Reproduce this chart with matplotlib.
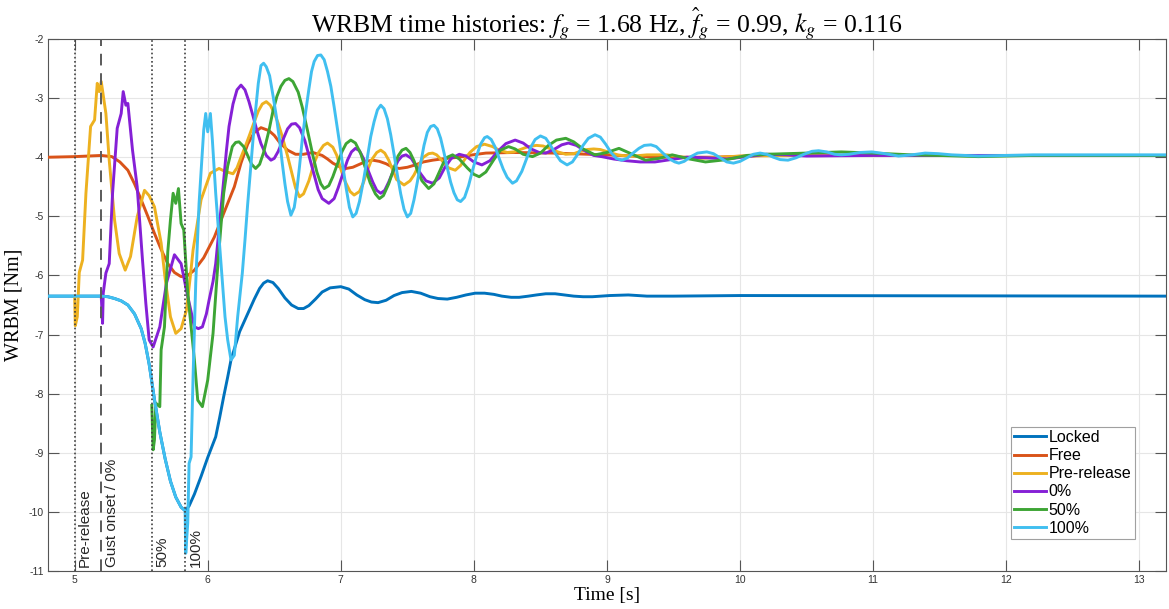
import matplotlib
matplotlib.use('Agg')
import matplotlib.pyplot as plt

# time [s] / WRBM [Nm] samples
LOCKED_T = [4.80, 5.20, 5.25, 5.30, 5.35, 5.40, 5.45, 5.50, 5.53, 5.56, 5.60, 5.64, 5.68, 5.72, 5.76,
            5.80, 5.83, 5.86, 5.90, 5.95, 6.00, 6.06, 6.09, 6.12, 6.15, 6.175, 6.21, 6.24, 6.28, 6.31,
            6.35, 6.39, 6.42, 6.45, 6.49, 6.53, 6.58, 6.63, 6.68, 6.72, 6.76, 6.81, 6.86, 6.92, 7.00,
            7.06, 7.12, 7.18, 7.23, 7.28, 7.34, 7.40, 7.46, 7.53, 7.60, 7.67, 7.73, 7.80, 7.87, 7.94,
            8.01, 8.08, 8.15, 8.21, 8.28, 8.34, 8.41, 8.47, 8.54, 8.61, 8.68, 8.75, 8.82, 8.89, 9.02,
            9.16, 9.30, 9.50, 10.0, 13.2]
LOCKED_V = [-6.35, -6.35, -6.36, -6.39, -6.43, -6.50, -6.65, -6.90, -7.15, -7.50, -8.10, -8.65, -9.10, -9.48, -9.75,
            -9.92, -9.98, -9.90, -9.70, -9.40, -9.08, -8.73, -8.40, -8.05, -7.72, -7.43, -7.17, -6.95, -6.75, -6.60,
            -6.40, -6.22, -6.13, -6.09, -6.12, -6.22, -6.38, -6.50, -6.56, -6.56, -6.51, -6.40, -6.28, -6.21, -6.19,
            -6.23, -6.33, -6.41, -6.45, -6.46, -6.42, -6.34, -6.29, -6.27, -6.30, -6.36, -6.39, -6.40, -6.37, -6.33,
            -6.30, -6.30, -6.32, -6.35, -6.37, -6.37, -6.35, -6.33, -6.31, -6.31, -6.33, -6.35, -6.36, -6.36, -6.34,
            -6.33, -6.35, -6.35, -6.34, -6.35]

FREE_T = [4.80, 5.00, 5.20, 5.28, 5.34, 5.40, 5.45, 5.50, 5.55, 5.60, 5.65, 5.70, 5.75, 5.80, 5.85,
          5.90, 5.97, 6.05, 6.12, 6.20, 6.25, 6.30, 6.35, 6.40, 6.46, 6.50, 6.54, 6.60, 6.66, 6.72,
          6.79, 6.86, 6.90, 6.94, 6.99, 7.04, 7.09, 7.14, 7.19, 7.24, 7.29, 7.34, 7.39, 7.44, 7.50,
          7.56, 7.62, 7.69, 7.79, 7.89, 7.99, 8.09, 8.30, 8.60, 8.99, 9.40, 9.80, 10.3, 11.0, 13.2]
FREE_V = [-4.00, -3.99, -3.97, -3.99, -4.08, -4.22, -4.45, -4.72, -5.00, -5.29, -5.56, -5.80, -5.95, -6.02, -6.00,
          -5.91, -5.70, -5.35, -4.95, -4.50, -4.10, -3.78, -3.58, -3.50, -3.55, -3.63, -3.75, -3.88, -3.95, -3.95,
          -3.92, -3.97, -4.03, -4.10, -4.16, -4.19, -4.17, -4.12, -4.07, -4.05, -4.07, -4.11, -4.17, -4.19, -4.17,
          -4.13, -4.08, -4.05, -4.02, -4.00, -3.96, -3.93, -3.92, -3.93, -3.96, -4.00, -4.00, -3.96, -3.97, -3.97]

PRE_T = [5.00, 5.005, 5.02, 5.035, 5.06, 5.085, 5.12, 5.15, 5.17, 5.185, 5.20, 5.235, 5.26, 5.30, 5.335,
         5.38, 5.42, 5.47, 5.525, 5.56, 5.60, 5.65, 5.68, 5.72, 5.76, 5.80, 5.84, 5.87, 5.89, 5.95,
         6.02, 6.085, 6.13, 6.19, 6.22, 6.25, 6.28, 6.31, 6.35, 6.38, 6.41, 6.44, 6.47, 6.50, 6.53,
         6.56, 6.60, 6.63, 6.66, 6.69, 6.72, 6.76, 6.80, 6.83, 6.87, 6.90, 6.94, 6.97, 7.00, 7.03,
         7.07, 7.10, 7.14, 7.17, 7.20, 7.23, 7.27, 7.30, 7.33, 7.36, 7.39, 7.42, 7.475, 7.52, 7.55,
         7.59, 7.62, 7.66, 7.69, 7.72, 7.75, 7.78, 7.81, 7.86, 7.90, 7.93, 7.97, 8.02, 8.08, 8.14,
         8.19, 8.25, 8.30, 8.36, 8.41, 8.47, 8.52, 8.58, 8.63, 8.69, 8.75, 8.80, 8.85, 8.90, 8.95,
         9.02, 9.08, 9.15, 9.20, 9.30, 9.45, 9.57, 9.70, 9.85, 10.0, 10.5, 13.2]
PRE_V = [-6.35, -6.85, -6.70, -5.95, -5.74, -4.61, -3.48, -3.37, -2.75, -2.89, -2.72, -3.26, -4.05, -5.06, -5.63,
         -5.91, -5.68, -5.01, -4.56, -4.65, -4.84, -5.45, -6.05, -6.70, -6.98, -6.90, -6.59, -6.00, -5.57, -4.72,
         -4.27, -4.19, -4.24, -4.28, -4.18, -4.00, -3.83, -3.65, -3.40, -3.22, -3.10, -3.06, -3.12, -3.25, -3.43,
         -3.65, -3.98, -4.25, -4.52, -4.67, -4.62, -4.40, -4.10, -3.93, -3.80, -3.76, -3.83, -3.97, -4.20, -4.40,
         -4.58, -4.64, -4.58, -4.43, -4.22, -4.05, -3.92, -3.88, -3.93, -4.05, -4.22, -4.38, -4.47, -4.40, -4.30,
         -4.12, -4.00, -3.94, -3.93, -3.96, -4.03, -4.11, -4.18, -4.22, -4.14, -4.04, -3.92, -3.82, -3.78, -3.82,
         -3.88, -3.92, -3.91, -3.86, -3.82, -3.80, -3.81, -3.86, -3.91, -3.95, -3.94, -3.90, -3.87, -3.86, -3.87,
         -3.92, -3.96, -3.98, -3.98, -3.96, -3.96, -4.00, -4.02, -4.00, -3.98, -3.97, -3.97]

P0_T = [5.20, 5.21, 5.215, 5.235, 5.26, 5.285, 5.32, 5.35, 5.365, 5.385, 5.40, 5.435, 5.47, 5.51, 5.535,
        5.56, 5.59, 5.64, 5.69, 5.75, 5.80, 5.84, 5.90, 5.93, 5.96, 5.99, 6.01, 6.04, 6.06, 6.09,
        6.12, 6.14, 6.16, 6.19, 6.22, 6.25, 6.28, 6.31, 6.34, 6.37, 6.40, 6.44, 6.475, 6.50, 6.53,
        6.57, 6.60, 6.63, 6.66, 6.69, 6.73, 6.77, 6.80, 6.83, 6.86, 6.91, 6.95, 6.98, 7.02, 7.05,
        7.08, 7.11, 7.14, 7.17, 7.21, 7.24, 7.27, 7.30, 7.33, 7.36, 7.40, 7.43, 7.46, 7.49, 7.53,
        7.56, 7.60, 7.64, 7.69, 7.74, 7.78, 7.83, 7.89, 7.94, 8.00, 8.06, 8.12, 8.18, 8.24, 8.31,
        8.37, 8.43, 8.49, 8.54, 8.60, 8.66, 8.71, 8.77, 8.84, 8.90, 8.96, 9.05, 9.15, 9.25, 9.36,
        9.48, 9.60, 9.75, 9.90, 10.05, 10.2, 10.35, 10.5, 11.0, 13.2]
P0_V = [-6.35, -6.81, -6.30, -5.96, -5.80, -4.61, -3.51, -3.26, -2.89, -3.12, -3.09, -3.88, -4.50, -5.74, -6.47,
        -7.09, -7.21, -6.87, -6.13, -5.65, -5.80, -6.25, -6.87, -6.90, -6.87, -6.65, -6.42, -6.10, -5.80, -5.10,
        -4.39, -3.90, -3.48, -3.10, -2.86, -2.78, -2.86, -3.06, -3.30, -3.55, -3.77, -3.97, -4.05, -4.02, -3.90,
        -3.68, -3.52, -3.44, -3.43, -3.50, -3.72, -4.05, -4.30, -4.55, -4.70, -4.78, -4.70, -4.52, -4.25, -4.05,
        -3.91, -3.85, -3.89, -4.02, -4.25, -4.42, -4.56, -4.61, -4.56, -4.42, -4.20, -4.06, -3.98, -3.96, -4.02,
        -4.13, -4.28, -4.40, -4.44, -4.35, -4.18, -4.02, -3.95, -3.98, -4.08, -4.13, -4.06, -3.90, -3.77, -3.71,
        -3.76, -3.86, -3.92, -3.93, -3.87, -3.79, -3.76, -3.80, -3.90, -3.97, -3.99, -4.03, -4.06, -4.08, -4.08,
        -4.04, -4.00, -4.01, -4.03, -3.99, -3.95, -3.96, -3.98, -3.97, -3.97]

P50_T = [5.58, 5.59, 5.60, 5.61, 5.64, 5.65, 5.675, 5.70, 5.72, 5.74, 5.76, 5.78, 5.80, 5.82, 5.85,
         5.90, 5.925, 5.96, 6.00, 6.04, 6.075, 6.10, 6.12, 6.15, 6.185, 6.21, 6.235, 6.27, 6.30, 6.33,
         6.36, 6.39, 6.42, 6.46, 6.49, 6.52, 6.55, 6.58, 6.61, 6.64, 6.68, 6.71, 6.75, 6.79, 6.82,
         6.85, 6.875, 6.91, 6.94, 6.98, 7.01, 7.04, 7.075, 7.11, 7.15, 7.19, 7.22, 7.26, 7.29, 7.32,
         7.36, 7.40, 7.43, 7.46, 7.49, 7.52, 7.55, 7.58, 7.61, 7.66, 7.70, 7.73, 7.77, 7.80, 7.84,
         7.89, 7.95, 8.00, 8.04, 8.09, 8.15, 8.20, 8.26, 8.31, 8.37, 8.44, 8.50, 8.56, 8.62, 8.69,
         8.75, 8.82, 8.91, 9.00, 9.09, 9.19, 9.29, 9.39, 9.49, 9.62, 9.74, 9.90, 10.05, 10.2, 10.5,
         10.76, 11.0, 11.29, 11.5, 11.79, 12.2, 13.2]
P50_V = [-8.20, -8.95, -8.78, -8.16, -8.22, -7.26, -6.87, -5.60, -5.06, -4.61, -4.78, -4.53, -5.12, -5.23, -6.30,
         -7.43, -8.11, -8.22, -7.77, -6.98, -5.85, -5.15, -4.61, -4.15, -3.82, -3.75, -3.74, -3.82, -3.97, -4.12,
         -4.19, -4.12, -3.92, -3.55, -3.22, -2.97, -2.80, -2.70, -2.67, -2.72, -2.90, -3.15, -3.55, -3.97, -4.25,
         -4.45, -4.53, -4.48, -4.33, -4.08, -3.90, -3.77, -3.71, -3.76, -3.94, -4.22, -4.43, -4.62, -4.70, -4.65,
         -4.45, -4.18, -3.98, -3.88, -3.85, -3.92, -4.06, -4.25, -4.40, -4.53, -4.45, -4.30, -4.10, -4.00, -3.96,
         -4.03, -4.18, -4.29, -4.33, -4.25, -4.04, -3.88, -3.82, -3.86, -3.95, -3.99, -3.93, -3.80, -3.71, -3.68,
         -3.74, -3.86, -3.96, -3.92, -3.85, -3.95, -4.05, -4.02, -3.96, -4.03, -4.08, -4.04, -3.97, -3.95, -3.93,
         -3.91, -3.93, -3.96, -3.97, -3.99, -3.97, -3.97]

P100_T = [4.80, 5.20, 5.25, 5.30, 5.35, 5.40, 5.45, 5.50, 5.53, 5.56, 5.60, 5.64, 5.68, 5.72, 5.76,
          5.80, 5.83, 5.835, 5.85, 5.86, 5.875, 5.89, 5.91, 5.935, 5.97, 5.985, 6.00, 6.02, 6.035, 6.06,
          6.10, 6.13, 6.15, 6.175, 6.20, 6.225, 6.26, 6.28, 6.30, 6.32, 6.34, 6.36, 6.38, 6.40, 6.42,
          6.44, 6.465, 6.49, 6.515, 6.54, 6.56, 6.58, 6.60, 6.625, 6.65, 6.67, 6.69, 6.71, 6.735, 6.76,
          6.78, 6.80, 6.825, 6.85, 6.875, 6.90, 6.925, 6.95, 6.97, 6.99, 7.015, 7.04, 7.065, 7.09, 7.115,
          7.14, 7.17, 7.20, 7.225, 7.25, 7.275, 7.30, 7.325, 7.35, 7.375, 7.40, 7.425, 7.45, 7.475, 7.50,
          7.525, 7.55, 7.575, 7.60, 7.625, 7.65, 7.675, 7.70, 7.725, 7.75, 7.775, 7.80, 7.825, 7.85, 7.875,
          7.90, 7.93, 7.96, 7.99, 8.02, 8.05, 8.08, 8.10, 8.13, 8.16, 8.19, 8.22, 8.25, 8.29, 8.32,
          8.36, 8.40, 8.43, 8.46, 8.50, 8.54, 8.57, 8.61, 8.65, 8.70, 8.74, 8.78, 8.82, 8.86, 8.91,
          8.95, 8.99, 9.03, 9.07, 9.11, 9.15, 9.19, 9.24, 9.28, 9.33, 9.37, 9.42, 9.47, 9.51, 9.54,
          9.58, 9.63, 9.68, 9.75, 9.80, 9.85, 9.90, 9.95, 10.00, 10.05, 10.10, 10.15, 10.20, 10.25, 10.30,
          10.36, 10.42, 10.48, 10.54, 10.59, 10.65, 10.71, 10.76, 10.82, 10.90, 10.99, 11.09, 11.19, 11.29, 11.39,
          11.49, 11.59, 11.79, 12.2, 13.2]
P100_V = [-6.35, -6.35, -6.36, -6.39, -6.43, -6.50, -6.65, -6.90, -7.15, -7.50, -8.10, -8.65, -9.10, -9.48, -9.75,
          -9.92, -9.98, -10.70, -10.19, -9.18, -9.07, -7.71, -6.13, -4.78, -3.54, -3.26, -3.57, -3.26, -3.71, -4.61,
          -5.80, -6.70, -7.09, -7.43, -7.35, -6.70, -5.96, -5.40, -4.80, -4.25, -3.71, -3.20, -2.75, -2.45, -2.41,
          -2.47, -2.62, -2.95, -3.30, -3.71, -4.10, -4.45, -4.75, -4.98, -4.85, -4.55, -4.15, -3.71, -3.25, -2.85,
          -2.55, -2.38, -2.28, -2.27, -2.35, -2.55, -2.80, -3.15, -3.45, -3.75, -4.15, -4.52, -4.85, -5.01, -4.95,
          -4.75, -4.40, -4.00, -3.65, -3.40, -3.20, -3.12, -3.18, -3.35, -3.62, -3.95, -4.30, -4.62, -4.88, -5.01,
          -4.95, -4.72, -4.42, -4.10, -3.80, -3.58, -3.48, -3.46, -3.52, -3.68, -3.92, -4.18, -4.42, -4.60, -4.72,
          -4.75, -4.68, -4.48, -4.22, -3.98, -3.78, -3.67, -3.65, -3.70, -3.83, -4.02, -4.20, -4.34, -4.44, -4.40,
          -4.24, -4.00, -3.82, -3.70, -3.64, -3.68, -3.78, -3.93, -4.06, -4.13, -4.08, -3.95, -3.80, -3.68, -3.62,
          -3.66, -3.78, -3.92, -4.02, -4.05, -4.02, -3.94, -3.85, -3.80, -3.79, -3.82, -3.93, -4.03, -4.08, -4.10,
          -4.07, -3.99, -3.93, -3.91, -3.94, -4.01, -4.08, -4.10, -4.07, -4.01, -3.95, -3.93, -3.95, -4.00, -4.04,
          -4.05, -4.01, -3.95, -3.90, -3.89, -3.91, -3.95, -3.96, -3.95, -3.92, -3.91, -3.94, -3.98, -3.96, -3.93,
          -3.94, -3.96, -3.98, -3.96, -3.96]

SERIES = [
    ('Locked', LOCKED_T, LOCKED_V, '#0072BD'),
    ('Free', FREE_T, FREE_V, '#D95319'),
    ('Pre-release', PRE_T, PRE_V, '#EDB120'),
    ('0%', P0_T, P0_V, '#8520D6'),
    ('50%', P50_T, P50_V, '#3DA535'),
    ('100%', P100_T, P100_V, '#40BFF0'),
]

MARKER_TIMES = [5.0, 5.2, 5.58, 5.83]
MARKER_LABELS = ['Pre-release', 'Gust onset / 0%', '50%', '100%']
MARKER_STYLES = [':', '--', ':', ':']

X_TICKS = list(range(5, 14))
Y_TICKS = list(range(-11, -1))

plt.rcParams['axes.unicode_minus'] = False
plt.rcParams['mathtext.fontset'] = 'stix'
SANS = ['Liberation Sans', 'DejaVu Sans']
SERIF = ['Liberation Serif', 'DejaVu Serif']

fig = plt.figure(figsize=(11.69, 6.09), dpi=100)
ax = fig.add_axes([48 / 1169, 38 / 609, 1118 / 1169, 532 / 609])

for name, t, v, color in SERIES:
    ax.plot(t, v, color=color, lw=2.1, label=name, zorder=3, solid_joinstyle='round')

for t, lab, ls in zip(MARKER_TIMES, MARKER_LABELS, MARKER_STYLES):
    if ls == '--':
        ax.axvline(t, color='#5a5a5a', lw=1.4, zorder=4, ls='--', dashes=(6, 4))
    else:
        ax.axvline(t, color='#404040', lw=1.2, zorder=4, ls=':', dashes=(1, 1.5))
    ax.text(t + 0.025, -10.93, lab, rotation=90, ha='left', va='bottom',
            fontsize=11, family=SANS, color='#262626', zorder=5)

ax.set_xlim(4.8, 13.2)
ax.set_ylim(-11, -2)
ax.set_xticks(X_TICKS)
ax.set_yticks(Y_TICKS)
ax.grid(True, color='#e6e6e6', lw=0.8)
ax.set_axisbelow(True)
ax.tick_params(direction='in', length=8, width=0.8, colors='#555555',
               labelcolor='#333333', labelsize=7.5, top=True, right=True, pad=3)
for lab in ax.get_xticklabels() + ax.get_yticklabels():
    lab.set_family(SANS)
for sp in ax.spines.values():
    sp.set_color('#555555')
    sp.set_linewidth(0.8)

ax.set_xlabel('Time [s]', fontsize=14, family=SERIF, labelpad=1)
ax.set_ylabel('WRBM [Nm]', fontsize=14.5, family=SERIF, labelpad=4)
ax.set_title(r'WRBM time histories: $f_g$ = 1.68 Hz, $\widehat{f}_g$ = 0.99, $k_g$ = 0.116',
             fontsize=18.5, family=SERIF, pad=5)

leg = ax.legend(loc='lower right', bbox_to_anchor=(0.972, 0.06), borderaxespad=0,
                prop={'family': SANS, 'size': 11.5}, handlelength=2.0, handletextpad=0.15,
                labelspacing=0.2, borderpad=0.2, fancybox=False, framealpha=1)
leg.get_frame().set_edgecolor('#a0a0a0')
leg.get_frame().set_linewidth(0.8)

fig.savefig('out.png', dpi=100)
